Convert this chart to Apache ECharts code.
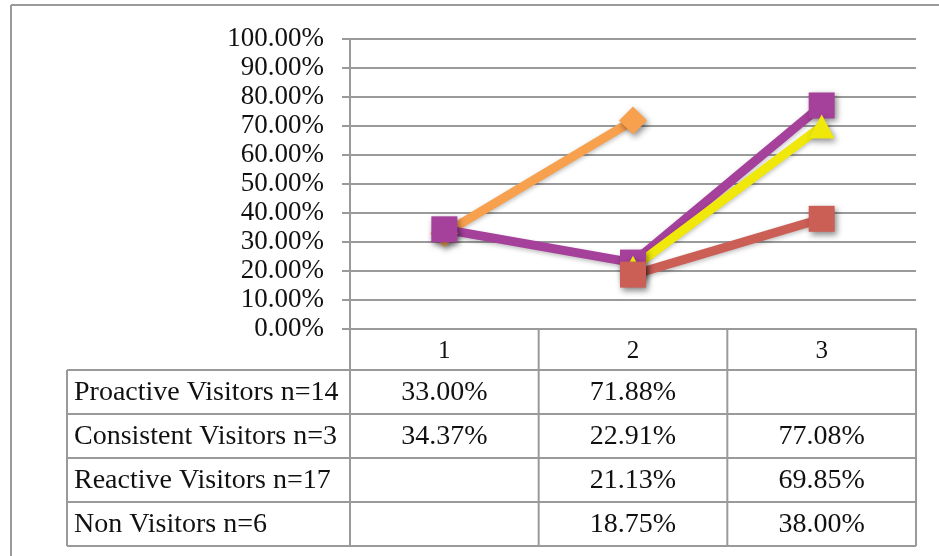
<!DOCTYPE html>
<html>
<head>
<meta charset="utf-8">
<script src="https://cdn.jsdelivr.net/npm/echarts@6/dist/echarts.min.js"></script>
<style>
  html, body { margin: 0; padding: 0; background: #fff; }
  #main { width: 939px; height: 556px; }
</style>
</head>
<body>
<div id="main"></div>
<script>
var categories = ['1', '2', '3'];
var seriesNames = ['Proactive Visitors n=14', 'Consistent Visitors n=3', 'Reactive Visitors n=17', 'Non Visitors n=6'];
var proactive = [33.00, 71.88, null];
var consistent = [34.37, 22.91, 77.08];
var reactive = [null, 21.13, 69.85];
var nonVisitors = [null, 18.75, 38.00];

var colors = ['#F7A04D', '#A5409B', '#EFE80A', '#CB5F56'];
var symbols = ['diamond', 'rect', 'triangle', 'rect'];
var symbolSizes = [28, 26, [26, 24], 26];
var allData = [proactive, consistent, reactive, nonVisitors];

var chart = echarts.init(document.getElementById('main'));

// layout of the plot + data table
var gridL = 350, gridR = 916, gridT = 39, gridB = 329;
var tableL = 67, headB = 370, rowH = 44;
var colW = (gridR - gridL) / categories.length;
var font = '"Liberation Serif", "DejaVu Serif", serif';
var lineColor = '#9a9a9a';

var graphics = [];
// outer frame
graphics.push({ type: 'line', shape: { x1: 11, y1: 5, x2: 939, y2: 5 }, style: { stroke: lineColor, lineWidth: 2 } });
graphics.push({ type: 'line', shape: { x1: 11, y1: 5, x2: 11, y2: 556 }, style: { stroke: lineColor, lineWidth: 2 } });

var tableB = headB + rowH * seriesNames.length;
// horizontal table lines
for (var r = 0; r <= seriesNames.length; r++) {
    var y = headB + r * rowH;
    graphics.push({ type: 'line', shape: { x1: tableL, y1: y, x2: gridR, y2: y }, style: { stroke: lineColor, lineWidth: 2 } });
}
// vertical table lines
graphics.push({ type: 'line', shape: { x1: tableL, y1: headB, x2: tableL, y2: tableB }, style: { stroke: lineColor, lineWidth: 2 } });
for (var c = 0; c <= categories.length; c++) {
    var x = gridL + c * colW;
    graphics.push({ type: 'line', shape: { x1: x, y1: gridB, x2: x, y2: tableB }, style: { stroke: lineColor, lineWidth: 2 } });
}
// row texts
seriesNames.forEach(function (name, i) {
    var cy = headB + i * rowH + rowH / 2 + 1;
    graphics.push({ type: 'text', x: tableL + 7, y: cy, style: { text: name, font: '28px ' + font, fill: '#111', verticalAlign: 'middle' } });
    allData[i].forEach(function (v, j) {
        if (v == null) return;
        graphics.push({ type: 'text', x: gridL + j * colW + colW / 2, y: cy, style: { text: v.toFixed(2) + '%', font: '28px ' + font, fill: '#111', align: 'center', verticalAlign: 'middle' } });
    });
});

var option = {
    animation: false,
    grid: { left: gridL, right: 939 - gridR, top: gridT, bottom: 556 - gridB },
    xAxis: {
        type: 'category',
        data: categories,
        boundaryGap: true,
        axisLine: { lineStyle: { color: lineColor, width: 2 } },
        axisTick: { show: false },
        axisLabel: { color: '#111', fontFamily: font, fontSize: 25, margin: 10 }
    },
    yAxis: {
        type: 'value',
        min: 0,
        max: 100,
        interval: 10,
        axisLine: { show: true, lineStyle: { color: lineColor, width: 2 } },
        axisTick: { show: true, length: 8, lineStyle: { color: lineColor, width: 2 } },
        splitLine: { lineStyle: { color: lineColor, width: 2 } },
        axisLabel: {
            color: '#111', fontFamily: font, fontSize: 27, margin: 26, padding: [4, 0, 0, 0],
            formatter: function (v) { return v.toFixed(2) + '%'; }
        }
    },
    series: allData.map(function (d, i) {
        return {
            name: seriesNames[i],
            type: 'line',
            data: d,
            symbol: symbols[i],
            symbolSize: symbolSizes[i],
            showAllSymbol: true,
            lineStyle: { color: colors[i], width: 9, shadowBlur: 4, shadowColor: 'rgba(0,0,0,0.25)', shadowOffsetY: 2 },
            itemStyle: { color: colors[i], shadowBlur: 6, shadowColor: 'rgba(0,0,0,0.45)', shadowOffsetX: 2, shadowOffsetY: 3 }
        };
    }),
    graphic: graphics
};

chart.setOption(option);
</script>
</body>
</html>
